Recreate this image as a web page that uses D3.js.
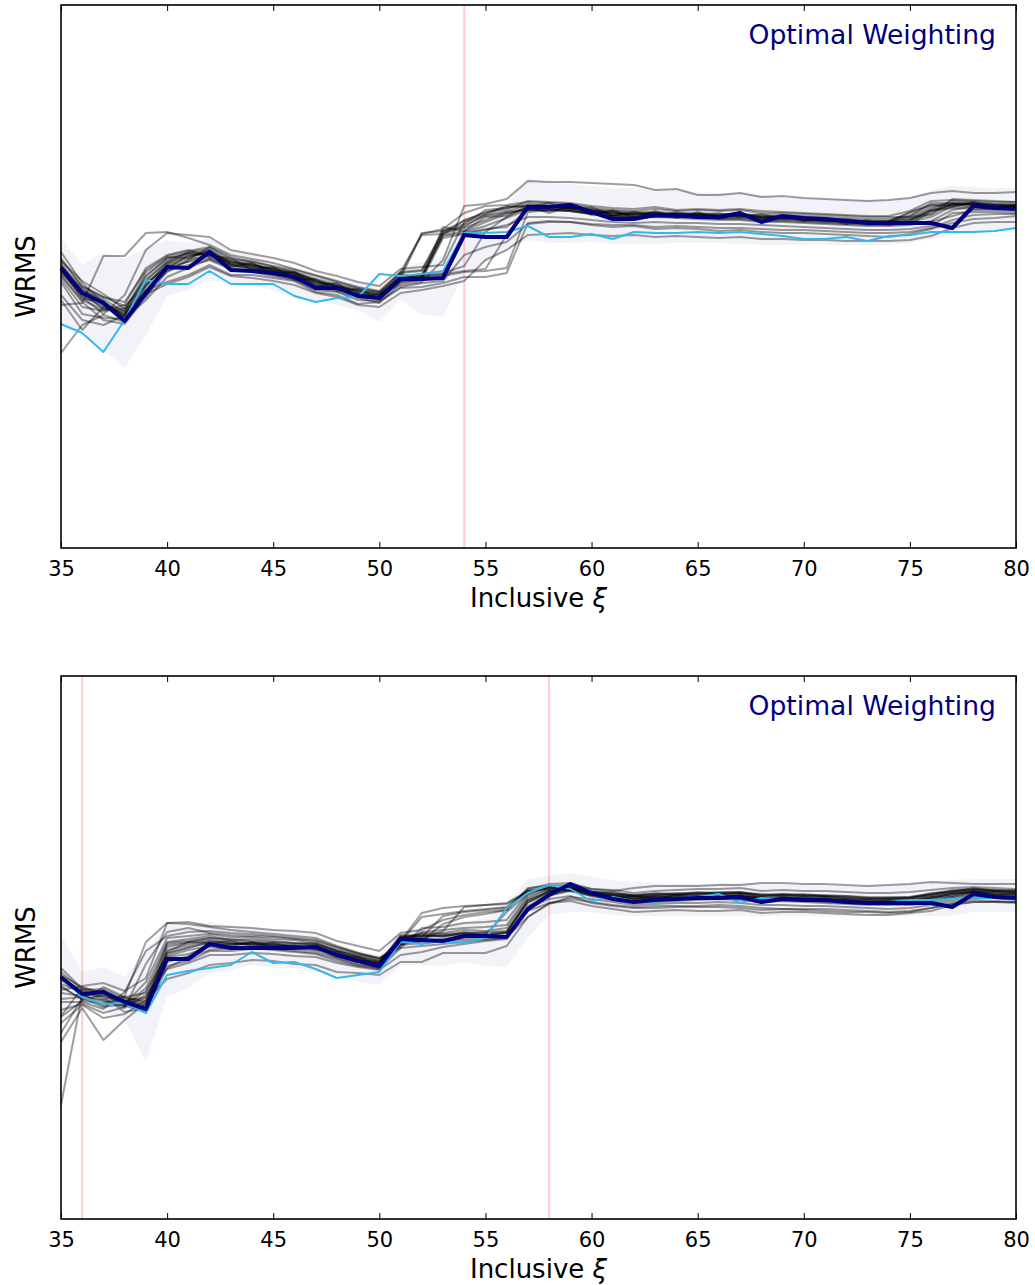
<!DOCTYPE html>
<html>
<head>
<meta charset="utf-8">
<script src="https://cdn.jsdelivr.net/npm/d3@7"></script>
<style>
  body { margin: 0; background: #fff; }
  svg text { font-family: "DejaVu Sans", sans-serif; }
</style>
</head>
<body>
<svg id="chart" width="1035" height="1285"></svg>
<script>
// Inclusive xi values (x axis)
const xiValues = [35,36,37,38,39,40,41,42,43,44,45,46,47,48,49,50,51,52,53,54,55,56,57,58,59,60,
                  61,62,63,64,65,66,67,68,69,70,71,72,73,74,75,76,77,78,79,80];
const xTicks = [35,40,45,50,55,60,65,70,75,80];

// WRMS in millimag — top panel
const topNavy = [146.4,141.4,139.4,135.8,141.4, 146.6,146.4,149.6,146.0,145.8, 145.4,144.6,142.4,142.4,140.8,
  140.4,144.2,144.2,144.4,153.0, 152.6,152.6,158.6,158.6,159.0, 157.6,156.2,156.2,157.0,157.0,
  156.6,156.6,157.4,155.6,156.8, 156.4,156.2,155.8,155.4,155.4, 155.4,155.4,154.4,158.8,158.4, 158.2];
const topBlue = [135.2,133.4,129.6,136.0,144.0, 143.2,143.2,145.8,143.2,143.2, 143.2,140.8,139.6,140.4,140.6,
  145.2,144.8,145.2,145.8,153.4, 153.4,153.6,154.8,152.6,152.6, 153.2,152.2,153.6,153.4,153.4,
  153.6,153.4,153.6,153.2,152.8, 152.2,152.2,152.6,151.8,152.8, 153.0,153.6,153.6,153.6,153.8, 154.4];
const topBandHi = [152.4,147.0,149.6,148.4,150.4, 152.0,151.4,152.4,150.0,149.0, 147.6,146.4,145.0,144.4,143.6,
  143.0,146.4,147.6,149.0,155.0, 157.0,159.0,164.4,163.6,163.2, 162.8,162.4,162.4,162.0,162.0,
  161.6,161.4,161.4,161.0,160.6, 160.4,160.2,160.0,160.0,160.0, 160.4,162.0,162.8,162.6,162.4, 162.4];
const topBandLo = [134.0,134.0,130.0,126.4,133.0, 140.8,142.0,144.0,143.0,143.0, 142.0,140.4,139.6,139.0,138.0,
  135.6,140.0,137.0,136.8,145.0, 147.6,150.0,152.0,151.4,151.4, 151.6,151.2,151.2,151.2,151.4,
  151.4,151.4,151.2,151.0,151.0, 151.0,151.0,151.0,151.0,151.0, 151.4,152.2,153.0,153.6,154.0, 154.4];
const topGrey = [
  [146.8,142.0,140.2,137.6,143.0, 147.2,148.6,149.8,147.0,146.4, 145.8,145.0,143.6,143.0,141.6, 141.0,145.0,153.4,153.8,155.2, 158.0,158.4,159.2,159.0,158.6, 158.0,157.6,157.2,157.4,157.0, 157.2,156.8,157.0,156.6,156.4, 156.2,156.0,155.8,155.6,155.8, 156.4,158.2,159.8,159.6,159.2, 159.0],
  [145.0,140.0,138.0,139.0,146.4, 149.0,150.0,148.6,147.6,147.0, 146.2,145.4,144.0,142.8,142.0, 141.2,143.0,143.6,148.0,158.8, 159.2,160.2,163.8,163.6,163.6, 163.4,163.2,163.0,162.0,162.2, 161.0,161.0,161.4,160.6,160.8, 160.4,160.2,160.0,159.8,160.0, 160.4,161.4,161.8,161.4,161.4, 161.6],
  [141.0,136.0,135.0,137.0,142.0, 143.6,145.0,147.0,145.0,145.0, 144.4,143.8,141.6,141.0,139.2, 139.6,142.4,142.6,143.4,144.6, 144.6,145.4,155.4,155.8,155.6, 155.0,154.6,154.8,154.2,154.4, 154.2,153.8,154.0,153.6,153.4, 153.4,153.2,153.0,152.8,152.6, 153.2,154.2,155.4,156.2,156.4, 156.8],
  [139.0,139.4,148.8,148.8,153.4, 153.6,152.4,151.0,149.0,148.2, 147.4,146.2,145.0,143.8,142.6, 141.8,145.6,146.0,153.8,154.6, 157.2,158.6,158.8,158.4,158.0, 157.4,157.0,156.8,156.8,156.6, 156.6,156.4,156.4,156.2,156.2, 156.0,155.8,155.6,155.4,155.4, 155.2,157.6,159.2,159.2,159.0, 158.8],
  [129.4,135.0,137.0,135.6,143.0, 146.8,147.6,148.4,146.8,146.2, 145.4,144.4,142.6,142.2,141.4, 140.2,143.8,144.4,152.8,153.4, 154.2,154.6,158.0,158.0,157.8, 157.2,156.8,156.6,156.6,156.6, 156.4,156.2,156.2,155.8,155.8, 155.6,155.4,155.2,155.0,155.0, 155.2,155.8,158.0,158.8,158.6, 158.4],
  [149.6,143.4,139.4,136.6,141.8, 145.6,148.0,150.6,148.6,147.6, 146.8,146.0,144.8,143.6,142.4, 141.6,144.4,153.2,154.2,157.4, 158.8,159.0,159.6,159.4,159.2, 158.4,158.0,157.8,158.2,157.8, 158.0,157.8,158.0,157.4,157.4, 157.2,157.0,156.8,156.6,156.6, 156.6,157.2,160.2,160.0,159.8, 159.6],
  [143.6,137.2,136.4,136.2,140.0, 144.6,146.4,148.2,146.4,145.6, 144.8,144.0,142.0,141.6,140.0, 139.8,142.6,143.4,143.8,149.0, 150.6,151.6,155.2,155.6,155.6, 155.2,155.0,155.0,154.6,154.8, 154.6,154.4,154.4,154.2,154.0, 154.0,153.8,153.6,153.4,153.4, 153.6,154.4,156.0,157.0,157.2, 157.2],
  [147.4,141.0,138.8,137.2,145.0, 148.2,149.2,149.4,147.4,147.0, 146.0,145.2,143.2,142.6,141.0, 140.6,144.8,144.8,153.4,154.4, 156.0,157.6,158.2,158.2,158.0, 157.6,157.2,157.0,157.2,156.8, 157.0,156.6,156.8,156.4,156.4, 156.2,156.0,155.8,155.6,155.6, 156.8,158.6,159.2,159.0,158.8, 158.6],
  [144.2,138.6,137.8,138.4,144.0, 147.8,149.6,150.2,147.8,146.8, 146.4,145.6,143.8,142.8,141.8, 141.4,143.6,144.0,144.8,145.6, 145.8,146.4,157.6,158.0,157.8, 157.2,156.8,156.4,156.6,156.4, 156.2,156.0,156.0,155.6,155.6, 155.4,155.2,155.0,154.8,154.8, 155.0,155.6,156.8,158.0,158.2, 158.2],
  [146.0,140.6,137.2,141.0,150.0, 153.4,153.0,152.6,150.0,149.2, 148.4,147.4,145.8,144.8,143.6, 142.8,146.2,146.6,147.0,155.6, 157.0,157.8,159.0,158.8,158.4, 158.0,157.8,157.6,157.6,157.4, 157.4,157.2,157.2,157.0,157.0, 156.8,156.6,156.4,156.2,156.2, 156.8,159.4,159.4,159.4,159.2, 159.2],
  [148.0,142.6,140.6,139.6,146.0, 148.8,149.8,150.6,148.2,147.8, 146.6,145.6,144.2,143.2,142.2, 141.6,145.4,145.8,153.8,155.8, 157.6,158.2,159.8,159.6,159.4, 158.8,158.4,158.2,158.6,158.0, 158.2,158.0,158.2,157.8,157.6, 157.4,157.2,157.0,156.8,156.8, 157.8,159.8,160.0,159.8,159.6, 159.6],
  [140.0,134.0,138.6,137.4,141.2, 143.2,144.6,146.6,144.8,144.4, 143.8,143.0,141.4,140.6,139.0, 138.6,141.4,142.0,142.8,143.8, 148.0,150.0,153.0,153.2,153.4, 153.0,152.8,153.0,152.6,152.8, 152.6,152.4,152.6,152.2,152.2, 152.0,152.0,151.8,151.8,151.8, 152.0,152.8,154.4,155.4,155.6, 155.6],
  [146.6,141.8,139.8,136.8,142.4, 146.0,147.8,149.0,147.2,146.6, 145.6,144.8,143.0,142.2,140.8, 140.0,144.0,144.6,153.0,153.8, 155.6,157.2,158.4,158.6,158.4, 157.8,157.4,157.2,157.4,157.2, 157.2,157.0,157.0,156.8,156.6, 156.4,156.2,156.0,155.8,155.8, 157.4,159.0,159.2,159.0,158.8, 158.8],
  [145.6,140.8,138.4,137.0,143.8, 147.6,148.8,149.2,147.0,146.4, 145.4,144.6,142.8,142.4,140.8, 140.4,144.4,144.8,145.0,153.6, 154.8,156.4,158.0,158.0,157.8, 157.2,156.8,156.6,156.8,156.6, 156.6,156.4,156.6,156.0,156.0, 155.8,155.6,155.4,155.2,155.2, 155.6,156.6,158.8,158.6,158.4, 158.4],
  [147.0,142.4,139.0,138.0,144.6, 148.4,149.4,149.8,147.6,147.2, 146.2,145.2,143.6,142.8,141.4, 140.8,144.6,145.0,145.4,146.8, 153.6,156.6,158.6,158.6,158.4, 157.8,157.4,157.2,157.4,157.0, 157.2,157.0,157.2,156.6,156.6, 156.4,156.2,156.0,155.8,155.8, 156.2,157.0,159.4,159.2,159.0, 159.0],
  [144.8,139.6,136.0,135.2,140.6, 145.8,147.0,148.0,146.2,145.8, 145.0,144.2,142.4,141.8,140.4, 139.4,143.4,144.0,152.4,153.2, 154.0,155.0,156.6,156.6,156.4, 156.0,155.6,155.4,155.6,155.4, 155.4,155.2,155.2,155.0,154.8, 154.6,154.4,154.2,154.0,154.0, 154.2,154.8,157.4,157.6,157.6, 157.4],
  [147.8,143.8,141.2,138.2,140.6, 147.0,148.2,148.8,148.4,146.0, 146.6,144.0,144.2,141.8,142.2, 140.2,145.2,144.2,154.6,153.8, 156.6,156.8,158.8,157.4,158.8, 157.0,158.0,156.4,157.8,156.4, 157.6,156.2,157.4,156.2,157.0, 155.8,156.4,155.2,156.0,155.0, 156.0,158.0,158.6,159.6,158.4, 159.0],
  [146.2,140.2,139.8,136.4,143.6, 146.2,149.0,149.2,146.6,147.4, 145.2,145.6,142.8,143.4,140.6, 141.2,145.6,153.0,153.2,156.0, 157.4,158.8,158.6,159.4,158.2, 158.6,156.8,157.6,156.8,157.6, 156.8,157.4,156.6,157.2,156.2, 156.6,155.8,156.2,155.6,155.6, 157.6,159.0,158.8,159.4,158.6, 158.8],
  [145.4,141.6,138.2,137.8,145.6, 148.6,148.4,150.0,147.2,146.8, 146.0,144.8,143.4,142.2,141.2, 140.6,144.0,144.6,145.2,145.8, 146.2,153.0,158.4,158.8,158.2, 158.2,157.0,157.4,157.0,157.2, 156.8,156.8,156.8,156.6,156.8, 156.0,156.0,155.6,155.6,155.4, 156.0,158.0,159.0,159.2,158.8, 158.8],
  [148.4,142.8,140.6,138.8,142.8, 147.4,149.4,149.0,148.0,147.4, 145.8,145.4,143.8,142.6,141.8, 141.0,144.4,145.2,153.2,155.0, 156.8,157.4,158.0,157.8,158.6, 157.4,157.6,156.8,157.2,156.8, 157.0,156.6,157.0,156.4,156.4, 156.0,155.8,155.6,155.4,155.2, 155.6,157.8,158.4,158.2,158.0, 157.8]
];
const topCutoffs = [54];

// WRMS in millimag — bottom panel
const bottomNavy = [138.8,135.4,135.8,133.8,132.4, 142.4,142.4,145.4,144.6,144.6, 144.6,144.6,144.8,143.2,142.0,
  141.0,146.4,146.2,146.0,147.0, 147.0,146.8,152.4,155.2,157.4, 155.6,154.4,153.8,154.2,154.4,
  154.6,154.6,154.8,153.8,154.4, 154.2,154.2,153.8,153.6,153.6, 153.6,153.6,152.8,155.4,154.8, 154.6];
const bottomBlue = [138.8,134.8,133.4,133.6,131.6, 139.2,140.0,140.6,141.2,143.8, 141.6,141.8,140.4,138.6,139.2,
  139.8,145.8,145.4,146.0,145.6, 146.6,152.6,155.6,157.2,156.4, 154.0,154.8,154.0,153.8,154.6,
  154.8,155.4,153.6,154.6,154.4, 154.4,154.2,153.8,153.8,153.8, 154.2,154.2,154.4,154.6,154.6, 154.2];
const bottomBandHi = [147.2,139.8,140.8,138.8,144.2, 149.2,149.2,149.8,149.2,148.6, 148.2,147.8,147.2,145.2,144.2,
  143.2,148.2,148.6,149.2,149.8, 150.6,153.2,158.4,159.0,159.6, 158.8,158.2,157.8,157.6,157.4,
  157.4,157.6,157.6,157.4,157.4, 157.2,157.2,157.0,157.0,157.2, 157.4,157.8,158.2,158.4,158.4, 158.4];
const bottomBandLo = [131.2,133.2,132.2,130.2,121.8, 134.8,136.6,139.6,140.2,141.2, 140.6,140.6,139.8,139.2,137.8,
  137.2,141.2,141.2,141.0,141.8, 141.0,140.8,146.6,151.2,151.8, 151.8,151.2,151.0,151.0,151.0,
  151.0,151.0,151.0,151.0,151.0, 151.0,151.0,151.0,151.0,151.0, 151.0,151.0,151.0,151.8,151.8, 151.8];
const bottomGrey = [
  [113.2,135.4,133.0,134.6,134.0, 145.6,146.0,146.6,146.0,145.8, 145.4,145.0,145.2,143.6,142.4, 141.6,147.2,147.0,147.0,147.6, 147.6,147.8,154.0,155.8,156.2, 155.4,154.8,154.4,154.6,154.8, 154.8,155.0,155.0,154.4,154.6, 154.4,154.4,154.0,153.8,153.8, 153.8,154.2,154.8,155.6,155.2, 155.0],
  [130.8,134.0,133.6,135.0,145.8, 149.6,149.4,148.8,148.2,147.8, 147.4,147.0,146.6,145.0,143.6, 142.6,144.6,148.6,148.8,149.6, 149.8,150.2,155.6,156.8,156.6, 155.8,155.2,154.8,155.0,155.2, 155.2,155.4,155.4,154.8,155.0, 154.8,154.8,154.4,154.2,154.2, 154.4,155.0,155.6,156.0,155.8, 155.6],
  [125.8,132.6,126.2,130.2,133.6, 141.8,143.0,145.4,145.4,145.6, 145.2,145.0,144.6,142.6,141.4, 140.6,145.6,146.0,146.0,146.6, 146.8,147.0,153.0,155.0,156.2, 155.0,154.2,153.6,153.8,154.0, 154.2,154.4,154.2,153.8,154.0, 153.8,153.6,153.4,153.2,153.2, 153.2,153.6,154.4,155.0,154.6, 154.4],
  [129.6,133.2,130.6,131.4,134.2, 138.4,139.6,141.2,141.6,142.2, 142.0,141.4,141.2,139.8,139.6, 139.2,141.8,141.8,143.6,143.6, 143.6,145.0,150.8,153.6,154.4, 153.8,153.2,152.8,153.0,153.0, 153.0,153.2,153.0,152.6,152.4, 152.4,152.4,152.2,152.0,151.8, 152.0,152.6,153.4,153.8,153.8, 153.8],
  [139.8,136.2,136.4,134.4,133.0, 144.8,145.6,146.2,145.6,145.4, 145.2,145.0,144.8,143.6,142.6, 141.4,147.0,147.2,147.4,147.6, 147.8,148.0,154.4,155.8,156.6, 155.6,155.0,154.8,154.8,155.0, 155.0,155.0,155.2,154.6,154.8, 154.6,154.4,154.2,154.0,154.0, 154.2,154.8,155.4,155.8,155.6, 155.4],
  [127.6,134.6,132.8,133.4,137.8, 146.6,147.0,147.4,146.8,146.8, 146.4,146.2,145.6,144.0,143.0, 142.0,146.0,151.6,152.6,153.0, 153.2,153.4,155.8,156.6,156.8, 156.0,155.6,155.2,155.4,155.6, 155.6,155.8,155.8,155.2,155.4, 155.2,155.2,155.0,154.8,154.6, 154.8,155.4,156.2,156.4,156.2, 156.0],
  [138.8,135.0,134.2,132.6,141.4, 147.8,148.6,147.6,147.2,147.0, 146.8,146.4,146.0,144.6,143.4, 142.6,145.4,146.0,149.4,150.8, 151.4,152.2,156.4,157.4,157.6, 156.4,156.0,156.6,157.0,157.0, 157.0,157.2,157.2,157.6,157.6, 157.4,157.4,157.2,157.0,157.2, 157.4,157.8,157.6,157.4,157.4, 157.4],
  [137.4,135.8,135.4,133.6,132.8, 143.4,144.6,145.8,145.4,145.2, 145.0,144.8,144.6,143.2,142.0, 141.2,146.8,147.0,147.2,147.4, 147.4,147.6,153.8,155.2,156.0, 155.2,154.8,154.4,154.6,154.6, 154.8,154.8,154.8,154.2,154.4, 154.2,154.2,153.8,153.6,153.6, 153.8,154.4,155.2,155.6,155.4, 155.2],
  [132.2,133.4,131.6,132.8,135.2, 140.4,141.6,143.2,143.2,143.6, 143.4,143.0,142.8,141.6,140.8, 140.2,143.2,143.8,144.8,145.4, 146.0,146.4,152.6,154.4,155.0, 153.6,153.0,152.6,152.6,152.8, 152.8,152.8,152.6,152.2,152.4, 152.2,152.0,151.8,151.8,151.6, 151.8,152.6,153.6,154.2,154.0, 153.8],
  [136.2,137.0,137.6,136.0,138.6, 149.6,149.8,149.0,148.8,148.6, 148.2,148.0,147.6,146.0,145.0, 144.0,147.6,148.2,150.2,151.2, 151.8,152.2,156.6,157.0,157.2, 156.4,156.2,155.6,156.0,156.2, 156.4,156.4,156.6,156.0,156.2, 156.0,156.0,155.8,155.6,155.6, 155.8,156.2,156.6,156.8,156.6, 156.4],
  [134.4,134.8,134.0,133.0,136.0, 143.0,144.2,145.0,145.2,145.6, 145.6,145.4,145.4,144.0,142.8, 141.8,146.2,146.4,148.0,152.8, 153.2,153.6,156.0,156.2,156.4, 155.6,155.2,155.0,155.0,155.2, 155.4,155.4,155.6,155.0,155.2, 155.0,154.8,154.6,154.4,154.4, 154.6,155.2,155.8,156.2,156.0, 155.8],
  [131.0,136.6,135.6,133.2,134.6, 141.0,142.0,144.0,144.0,144.4, 144.4,144.0,143.6,142.4,141.2, 140.6,145.2,145.6,146.0,146.2, 146.4,146.8,150.8,153.4,154.8, 154.4,153.8,153.2,153.4,153.6, 153.6,153.8,153.6,153.2,153.2, 153.0,153.0,152.8,152.6,152.4, 152.6,153.2,154.0,154.6,154.6, 154.4],
  [138.2,135.2,135.0,134.0,133.4, 144.2,145.2,146.0,145.6,145.4, 145.0,144.8,144.4,143.4,142.4, 141.4,146.8,146.8,147.0,147.2, 147.2,147.6,154.2,155.6,156.4, 155.4,154.8,154.6,154.6,154.8, 154.8,154.8,155.0,154.4,154.6, 154.4,154.2,154.0,153.8,153.8, 154.0,154.6,155.4,155.8,155.4, 155.2],
  [133.8,133.8,132.4,135.8,144.0, 147.0,147.8,148.0,147.6,147.4, 147.0,146.6,146.2,144.8,143.6, 142.4,145.0,147.8,148.2,148.6, 148.8,149.2,155.2,156.2,156.4, 155.8,155.4,155.0,155.2,155.4, 155.4,155.6,155.6,155.0,155.2, 155.0,155.0,154.6,154.4,154.4, 154.6,155.2,156.0,156.2,156.0, 155.8],
  [140.6,136.4,134.8,131.8,132.6, 142.8,143.4,144.8,144.4,144.6, 144.2,143.8,143.4,142.0,141.0, 140.4,144.6,145.0,145.4,145.8, 146.2,146.6,152.0,153.6,154.0, 153.0,152.4,151.8,152.0,152.2, 152.0,152.0,152.2,151.6,151.8, 151.8,151.6,151.4,151.2,151.2, 151.6,152.0,153.2,153.8,153.8, 153.6],
  [136.8,134.4,136.8,134.8,135.6, 145.2,145.8,146.6,146.4,146.0, 145.8,145.6,145.6,144.2,143.2, 142.2,146.4,146.8,151.0,151.8, 152.2,152.6,156.2,156.6,156.6, 155.8,155.4,155.2,155.4,155.4, 155.6,155.6,155.8,155.2,155.4, 155.2,155.0,154.8,154.6,154.6, 154.8,155.4,156.0,156.4,156.2, 156.0],
  [138.4,136.0,134.4,134.8,133.6, 143.8,145.8,145.6,146.0,145.0, 145.6,144.6,145.0,143.0,142.8, 141.0,146.6,147.4,146.8,147.8, 147.0,147.8,153.6,156.0,156.2, 155.8,154.6,155.0,154.4,155.2, 154.6,155.2,154.8,154.8,154.2, 154.8,154.0,154.4,153.6,154.2, 153.8,154.8,155.0,156.0,155.2, 155.6],
  [135.6,135.0,136.2,133.2,136.6, 145.8,146.4,147.0,146.2,146.4, 146.0,145.6,145.2,144.0,142.8, 141.8,145.8,150.8,151.4,152.0, 152.4,152.8,156.0,156.4,156.8, 155.6,155.8,155.0,155.6,155.2, 155.8,155.4,155.6,155.4,155.0, 155.4,155.0,155.0,154.6,154.8, 154.6,155.6,155.8,156.6,156.0, 156.2],
  [137.0,134.2,135.2,133.0,132.0, 140.6,142.8,144.2,144.6,144.8, 144.6,144.4,144.0,142.8,141.8, 140.8,145.4,146.0,146.4,146.8, 147.2,151.8,155.4,156.8,156.0, 155.0,154.4,154.2,154.2,154.4, 154.4,154.6,154.4,154.0,154.2, 154.0,153.8,153.6,153.4,153.4, 153.6,154.0,154.8,155.2,155.0, 154.8],
  [139.2,136.8,135.6,134.0,134.8, 143.6,144.8,145.6,145.0,145.8, 144.6,145.2,144.2,143.8,142.0, 141.8,146.4,147.6,147.6,148.2, 148.0,148.6,154.8,156.0,156.8, 155.2,155.2,154.4,155.0,154.6, 155.0,154.6,155.2,154.6,154.6, 154.4,154.6,154.2,154.2,153.8, 154.2,154.6,155.6,155.8,155.8, 155.6]
];
const bottomCutoffs = [36, 58];

const wrmsDomain = [90.4, 199.0];
const panelTitle = "Optimal Weighting";

const svg = d3.select("#chart");
const plotLeft = 61, plotRight = 1016, plotH = 543;
const x = d3.scaleLinear().domain([35, 80]).range([plotLeft, plotRight]);

function drawPanel(top, p) {
  const y = d3.scaleLinear().domain(wrmsDomain).range([top + plotH, top]);
  const g = svg.append("g");

  // spread band
  const band = d3.area()
    .x((d, i) => x(xiValues[i]))
    .y0((d, i) => y(p.lo[i]))
    .y1(d => y(d));
  g.append("path").datum(p.hi).attr("d", band)
    .attr("fill", "#000080").attr("fill-opacity", 0.05);

  // selected cut positions
  g.selectAll("line.cut").data(p.cutoffs).join("line").attr("class", "cut")
    .attr("x1", d => x(d)).attr("x2", d => x(d))
    .attr("y1", top).attr("y2", top + plotH)
    .attr("stroke", "#ff0000").attr("stroke-opacity", 0.2).attr("stroke-width", 2);

  const line = d3.line().x((d, i) => x(xiValues[i])).y(d => y(d));

  g.selectAll("path.grey").data(p.grey).join("path").attr("class", "grey")
    .attr("d", line).attr("fill", "none")
    .attr("stroke", "#000").attr("stroke-opacity", 0.38)
    .attr("stroke-width", 2).attr("stroke-linejoin", "round");

  g.append("path").datum(p.blue).attr("d", line).attr("fill", "none")
    .attr("stroke", "#33b8ee").attr("stroke-width", 2).attr("stroke-linejoin", "round");

  g.append("path").datum(p.navy).attr("d", line).attr("fill", "none")
    .attr("stroke", "#000080").attr("stroke-width", 4).attr("stroke-linejoin", "round");

  // axes with inward ticks
  const axB = g.append("g").attr("transform", `translate(0,${top + plotH})`)
    .call(d3.axisBottom(x).tickValues(xTicks).tickSizeInner(-6).tickSizeOuter(0).tickPadding(13));
  const axT = g.append("g").attr("transform", `translate(0,${top})`)
    .call(d3.axisTop(x).tickValues(xTicks).tickSizeInner(-6).tickSizeOuter(0).tickFormat(""));
  [axB, axT].forEach(a => {
    a.select(".domain").remove();
    a.selectAll(".tick line").attr("stroke", "#000").attr("stroke-width", 1);
  });
  axB.selectAll(".tick text").attr("fill", "#000")
    .style("font-size", "21px").style("font-family", "'DejaVu Sans', sans-serif");

  // frame
  g.append("rect").attr("x", plotLeft).attr("y", top)
    .attr("width", plotRight - plotLeft).attr("height", plotH)
    .attr("fill", "none").attr("stroke", "#000").attr("stroke-width", 1.6);

  // labels
  const xl = g.append("text").attr("x", (plotLeft + plotRight) / 2).attr("y", top + plotH + 59)
    .attr("text-anchor", "middle").style("font-size", "26px").attr("fill", "#000");
  xl.append("tspan").text("Inclusive ");
  xl.append("tspan").style("font-style", "italic").text("ξ");

  g.append("text").attr("transform", `translate(35,${top + plotH / 2}) rotate(-90)`)
    .attr("text-anchor", "middle").style("font-size", "26px").attr("fill", "#000").text("WRMS");

  g.append("text").attr("x", 996).attr("y", top + 39)
    .attr("text-anchor", "end").style("font-size", "26.6px").attr("fill", "#000080").text(panelTitle);
}

drawPanel(5, { navy: topNavy, blue: topBlue, hi: topBandHi, lo: topBandLo, grey: topGrey, cutoffs: topCutoffs });
drawPanel(676, { navy: bottomNavy, blue: bottomBlue, hi: bottomBandHi, lo: bottomBandLo, grey: bottomGrey, cutoffs: bottomCutoffs });
</script>
</body>
</html>
